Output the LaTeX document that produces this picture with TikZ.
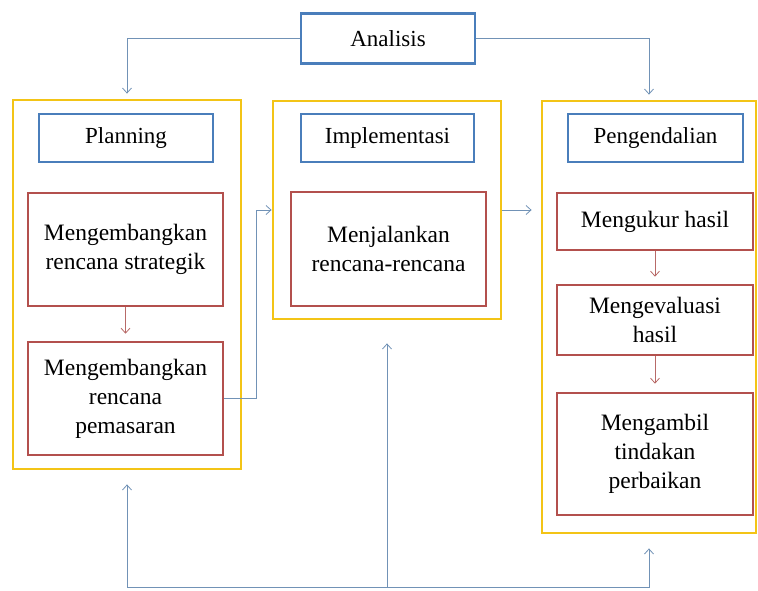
\documentclass[tikz,border=0pt]{standalone}
\usepackage{fontspec}
\setmainfont{Liberation Serif}
\usetikzlibrary{arrows.meta}
\definecolor{boxblue}{HTML}{4A7EBB}
\definecolor{boxred}{HTML}{B3504D}
\definecolor{boxgold}{HTML}{F3C416}
\definecolor{lineblue}{HTML}{7192B6}
\definecolor{linered}{HTML}{B86A68}
\begin{document}
\begin{tikzpicture}[x=1pt,y=-1pt,
	group/.style={draw=boxgold,line width=2.8pt,minimum width=228pt},
	head/.style={draw=boxblue,line width=2.6pt,minimum height=48pt,font=\fontsize{23}{28}\selectfont},
	task/.style={draw=boxred,line width=2.6pt,minimum width=195pt,align=center,font=\fontsize{23.5}{29}\selectfont},
	link/.style={lineblue,line width=0.8pt,-{Straight Barb[length=5pt,width=9pt]}},
	step link/.style={linered,line width=0.8pt,-{Straight Barb[length=5pt,width=9pt]}}]
	\useasboundingbox (0,0) rectangle (758,590);
	% kelompok
	\node[group,minimum height=369pt] (planbox) at (127,284.5) {};
	\node[group,minimum height=218pt] (implbox) at (387,210) {};
	\node[group,minimum width=214pt,minimum height=432pt] (ctrlbox) at (649,317) {};
	% judul
	\node[head,minimum width=174pt,minimum height=50pt] (analisis) at (388,38.5) {Analisis};
	\node[head,minimum width=174pt] (planning) at (126,138) {Planning};
	\node[head,minimum width=173pt] (implementasi) at (387.5,138) {Implementasi};
	\node[head,minimum width=175pt] (pengendalian) at (655.5,138) {Pengendalian};
	% kegiatan
	\node[task,minimum height=113pt] (strategik) at (125.5,249.5) {Mengembangkan\\rencana strategik};
	\node[task,minimum height=113pt] (pemasaran) at (125.5,398.5) {Mengembangkan\\rencana\\pemasaran};
	\node[task,minimum height=114pt] (menjalankan) at (388.5,249) {Menjalankan\\rencana-rencana};
	\node[task,minimum width=196pt,minimum height=57pt] (mengukur) at (655,221.5) {Mengukur hasil};
	\node[task,minimum width=196pt,minimum height=70pt] (evaluasi) at (655,320) {Mengevaluasi\\hasil};
	\node[task,minimum width=196pt,minimum height=122pt] (perbaikan) at (655,454) {Mengambil\\tindakan\\perbaikan};
	\coordinate (umpan) at (387,587);
	% panah
	\draw[link,shorten >=5pt] (analisis.west) -| (planbox.north);
	\draw[link,shorten >=5pt] (analisis.east) -| (ctrlbox.north);
	\draw[step link,shorten >=7pt] (strategik) -- (pemasaran);
	\draw[link] (pemasaran.east) -- ++(32,0) |- (implbox.west);
	\draw[link,shorten >=9pt] (implbox.east) -- (implbox.east -| ctrlbox.west);
	\draw[step link,shorten >=7pt] (mengukur) -- (evaluasi);
	\draw[step link,shorten >=8pt] (evaluasi) -- (perbaikan);
	\draw[link,shorten >=23pt] (umpan) -- (implbox.south);
	\draw[link,shorten >=14pt] (umpan) -| (planbox.south);
	\draw[link,shorten >=14pt] (umpan) -| (ctrlbox.south);
\end{tikzpicture}
\end{document}
